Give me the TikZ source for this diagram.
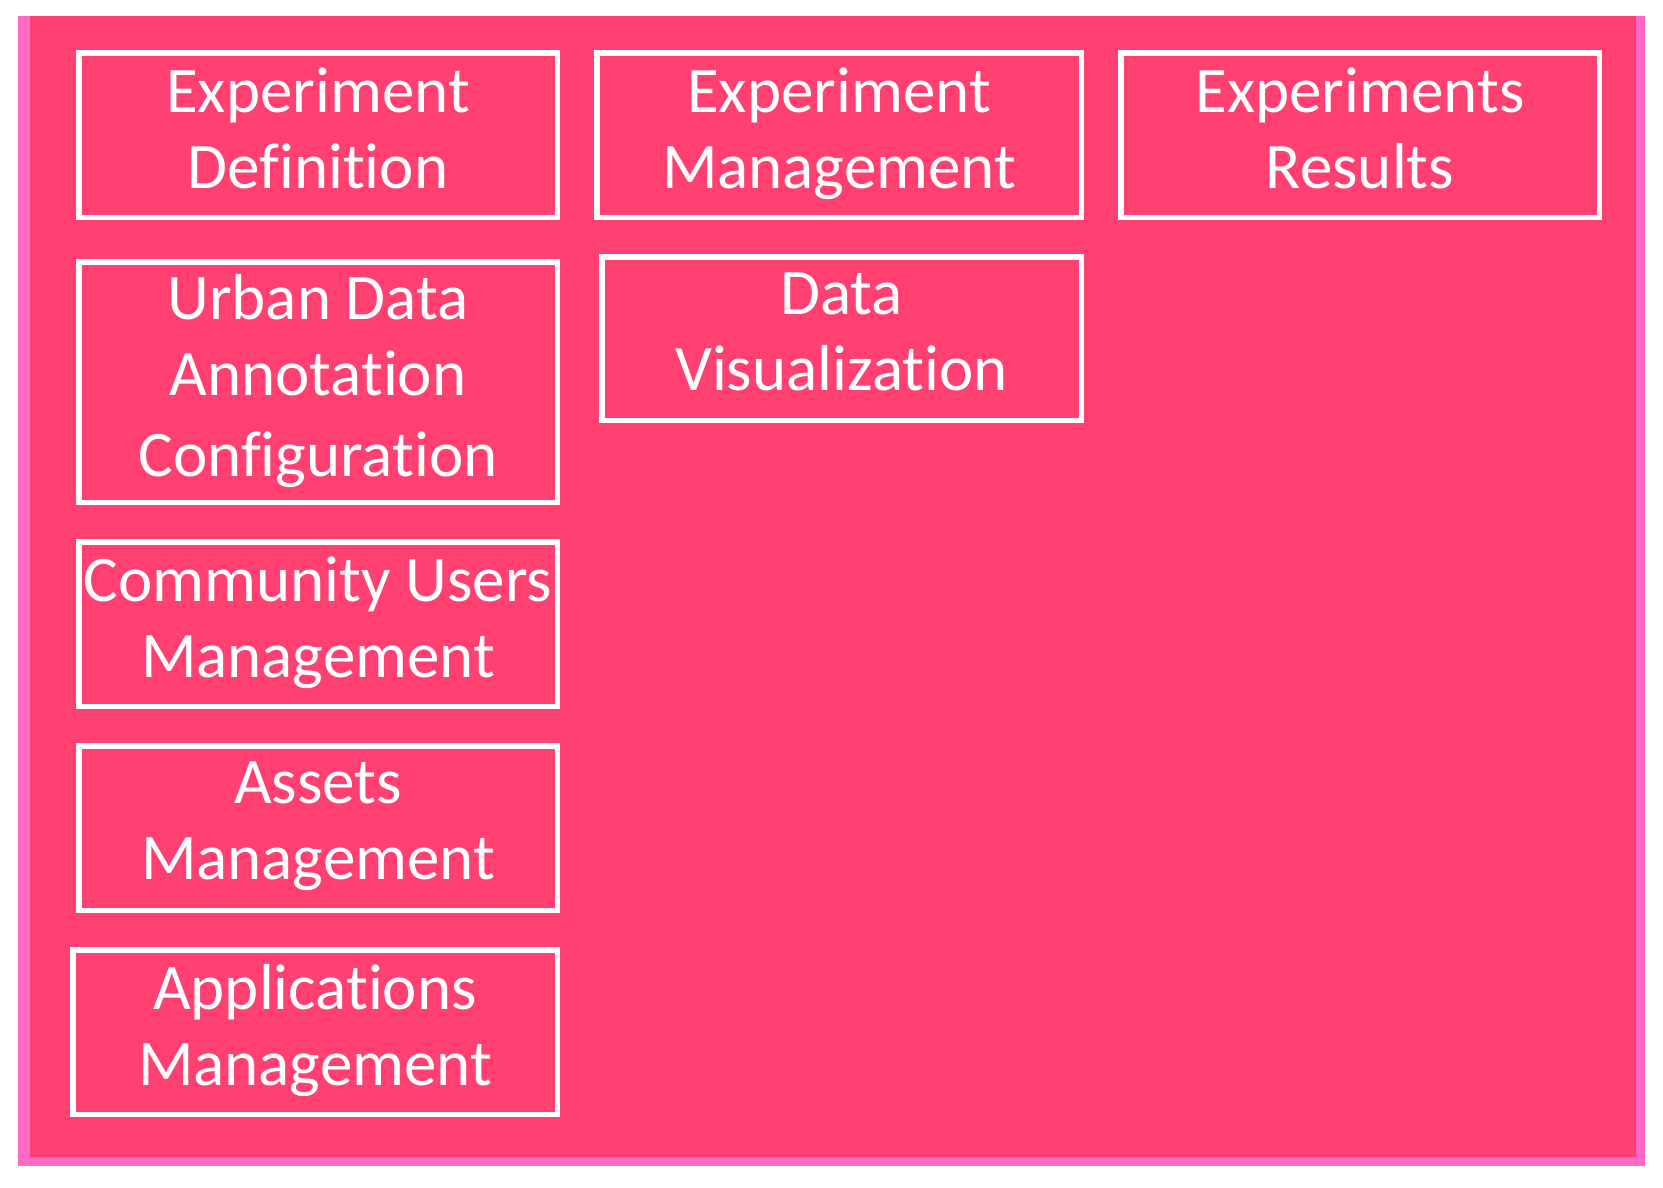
\documentclass[tikz,border=0pt]{standalone}
\usepackage{fontspec}
\setmainfont{Carlito}[Ligatures={NoCommon,NoContextual}]
\usepackage{tikz}
\usetikzlibrary{positioning}
\definecolor{rose}{RGB}{255,64,112}
\definecolor{candy}{RGB}{255,104,196}
\newcommand{\mstrut}{\rule[-14pt]{0pt}{47pt}}
\tikzset{
  module/.style={draw=white,line width=5.5pt,fill=rose,text=white,align=center,
    inner sep=0pt,font=\fontsize{65}{76}\selectfont},
}
\begin{document}
\begin{tikzpicture}[x=1pt,y=-1pt]
    \useasboundingbox[fill=white] (0,0) rectangle (1663,1187);
    % panel with its pink edge
    \fill[candy] (18,16) rectangle (1645,1166);
    \fill[rose] (30,16) rectangle (1636,1157);
    \foreach \nm/\x/\y/\w/\h/\t in {
      expdef/318/135/478.5/164.5/Experiment\\Definition,
      expmgmt/839/135/484.5/164.5/Experiment\\Management,
      expres/1360/135/478.5/164.5/Experiments\\Results,
      urban/318/382/478.5/240.5/Urban Data\\Annotation\\[5pt]Configuration,
      datavis/841.5/338.5/479.5/163.5/Data\\Visualization,
      community/318/624/478.5/164.5/Community Users\\Management,
      assets/318/828/478.5/164.5/Assets\\Management,
      apps/315/1032/484.5/164.5/Applications\\Management}
    {
      \node[module,minimum width=\w pt,minimum height=\h pt] (\nm) at (\x,\y) {\mstrut\t\mstrut};
    }
  \end{tikzpicture}
\end{document}
